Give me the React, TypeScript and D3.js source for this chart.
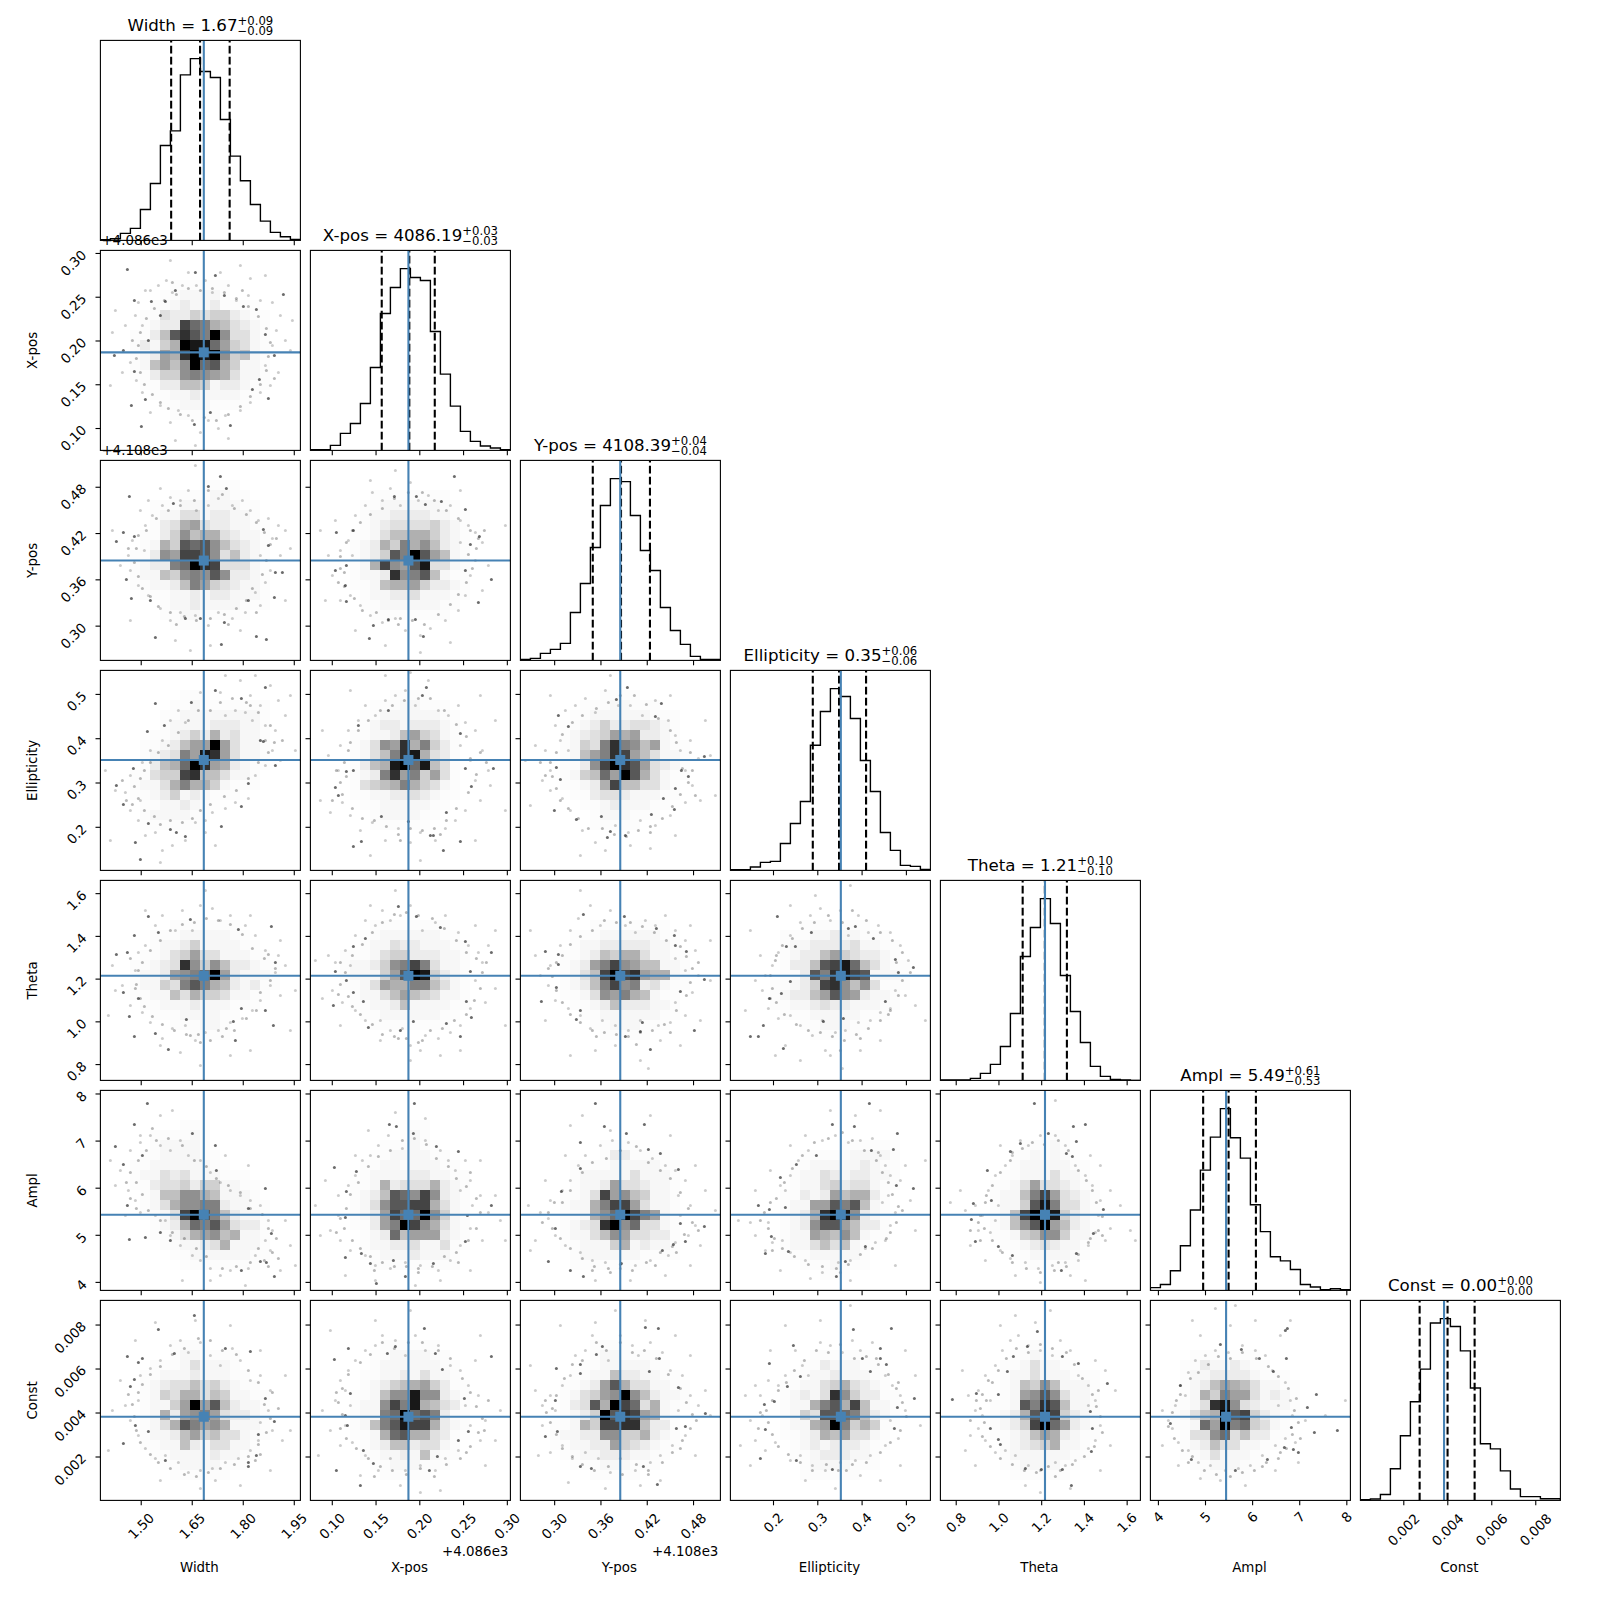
import React from "react";
import * as d3 from "d3";

// ---- parameters -----------------------------------------------------------
const LABELS = ["Width", "X-pos", "Y-pos", "Ellipticity", "Theta", "Ampl", "Const"];
const TITLE_VALUES = ["1.67", "4086.19", "4108.39", "0.35", "1.21", "5.49", "0.00"];
const TITLE_UPPER = ["0.09", "0.03", "0.04", "0.06", "0.10", "0.61", "0.00"];
const TITLE_LOWER = ["0.09", "0.03", "0.04", "0.06", "0.10", "0.53", "0.00"];
const AXIS_LOW = [1.38, 4086.075, 4108.2556, 0.1027, 0.726, 3.83, 0.000027];
const AXIS_HIGH = [1.968, 4086.3035, 4108.5148, 0.5542, 1.662, 8.076, 0.00912];
const TRUTH = [1.684, 4086.187, 4108.385, 0.352, 1.2155, 5.437, 0.00383];
const Q16 = [1.588, 4086.1565, 4108.3494, 0.2887, 1.111, 4.95, 0.00272];
const Q50 = [1.673, 4086.188, 4108.386, 0.348, 1.215, 5.49, 0.00399];
const Q84 = [1.76, 4086.2171, 4108.4235, 0.409, 1.318, 6.07, 0.00522];
const OFFSETS = [0, 4086, 4108, 0, 0, 0, 0];
const OFFSET_LABELS = ["", "+4.086e3", "+4.108e3", "", "", "", ""];
const TICK_DIGITS = [2, 2, 2, 1, 1, 0, 3];
const TICKS = [
  [1.5, 1.65, 1.8, 1.95],
  [4086.1, 4086.15, 4086.2, 4086.25, 4086.3],
  [4108.3, 4108.36, 4108.42, 4108.48],
  [0.2, 0.3, 0.4, 0.5],
  [0.8, 1.0, 1.2, 1.4, 1.6],
  [4, 5, 6, 7, 8],
  [0.002, 0.004, 0.006, 0.008],
];

// ---- marginal histograms (20 bins, relative counts) -------------------------
const histWidth = [2, 5, 21, 36, 93, 171, 285, 329, 497, 546, 507, 489, 363, 253, 179, 108, 58, 24, 11, 3];
const histXpos = [2, 2, 15, 51, 81, 141, 249, 411, 489, 546, 519, 510, 357, 229, 133, 57, 27, 13, 7, 2];
const histYpos = [3, 6, 21, 33, 51, 144, 231, 339, 465, 546, 537, 435, 330, 270, 159, 90, 48, 12, 3, 3];
const histEll = [2, 2, 10, 24, 27, 81, 141, 207, 376, 477, 546, 522, 456, 330, 237, 114, 60, 15, 12, 3];
const histTheta = [1, 1, 1, 6, 21, 48, 102, 201, 372, 459, 546, 471, 315, 207, 114, 42, 12, 3, 1, 0];
const histAmpl = [8, 17, 57, 130, 234, 350, 446, 529, 444, 385, 249, 171, 98, 86, 61, 17, 10, 2, 5, 2];
const histConst = [2, 4, 17, 92, 188, 287, 382, 516, 529, 506, 435, 327, 165, 150, 86, 33, 11, 11, 5, 5];
const HISTS = [histWidth, histXpos, histYpos, histEll, histTheta, histAmpl, histConst];

// ---- 2D histograms: one string per row of bins, top row first. Hex digit = density level ----
const cellsXW = ["","","","","........1111",".......12112","......322434421",".....122ca965321",".....25bdb9f8331","....2146feea7431","....1276dfef8451","....15758fab6411",".....24489876311","......225541221",".......1121111","........111"];
const cellsYW = ["","","","...........11","........111111","......113312211","......236732211","......2485663211",".....164bab85321",".....287ccb83521","....1229afdc3331","....1154898b8221",".....11259743211",".......112122111",".......1121111","........11"];
const cellsYX = ["","","","",".......111111","......11222211","......123333421","......135566421",".....1264968521",".....124b9fb751",".....16c87be331",".....112d89b51","......156674221","......11223111",".......111111"];
const cellsEW = ["","","",".........1","........11111111",".......111122211",".......124262311","......12577f7311",".....12397ed7311",".....256afd7621",".....344cd55311","....113696641",".....124121","......1121",".....1111"];
const cellsEX = ["","","",".........11",".......111111","......12212221","......11257431",".....1387d6942",".....1359de632",".....256efae53",".....129d79473",".....345696431","......1122321",".......11111",".......1111"];
const cellsEY = ["","","",".........11",".......111111","......124223321",".....1234767221",".....1439d98571",".....1579dc75311","......28cfdb7321",".....145a7fb631","......126c55331",".......2332111","........12111","........111"];
const cellsTW = ["","","","","","........11111","......11241111","......134733111",".....123d8485221","....112789af72111","....11439b965212",".....1153644311","......1112111","........1111","..........11"];
const cellsTX = ["","","","","",".......111111","......11322111","......134422211","....112489c9311","....11147bfe421",".....1376699531",".....1135754311","......11251111",".......111111"];
const cellsTY = ["","","","","","........111111","......112222211","......125466311",".....1279c875511",".....135cfcd7661",".....1259c89231","......13879651",".......12522211","........111111",".........111"];
const cellsTE = ["","","","","","........11211","......112222311","......1225743221","......225bcea531",".......2b9decb111","......124cd8583",".....12257b87211","......112322111","........11111",".........111"];
const cellsAW = ["","","","",".........1","......1111","......1111",".....111111","....11323111",".....233424411",".....1558865111",".....1368899211","......13cfb95211","......126a9b7322",".......136785611","........11236111",".........111111"];
const cellsAX = ["","","","","..........1","..........1","........1111",".......11.111","......11112211","......162333621",".....125ba8c821",".....138bbcc631",".....127caaf841","......279fc8631","......12a577721","......11223113",".......1112111"];
const cellsAY = ["","","","","","",".........22",".........11111","......111113111","......112733211","......13c785411",".....1169cc7311","......168afc971",".....123df8a331",".....1135873322","......111461211","......111111"];
const cellsAE = ["","","","","","","............1111","........1111121",".......113212211",".......11342331",".......21275662","......1177b9b51","......126dfe821","......128bb7522","......11765851","......1135351","........11111","..........1"];
const cellsAT = ["","","","","","...........1",".........1.1","........11111","........111311",".......1373321","......1159c7321","......114be9331","......15cfde421","......158bf7521",".......14588411","........123211",".........1111"];
const cellsCW = ["","","","","","........11","........13111","......1112111",".....123353421",".....1436635411",".....1147f7b5211",".....16278973221",".....136b9786111",".....1125745331","......115213311",".......1111211","........1111"];
const cellsCX = ["","","","","","........1111",".......111111",".......1121311","......12456742","......1588e8821",".....118c9e6532",".....119afab92",".....159becc621","......16ab6632","......12552331",".......112151","........111"];
const cellsCY = ["","","","","","........11","........11111",".......1152211","......127b63311",".....13478f85211",".....23b6fca361",".....124fbdc761",".....164ccdd522","....11228844621",".....112274321","......1122211","........111"];
const cellsCE = ["","","","","","",".........2111","........112111",".......11346321","......1213d8422","......1169b6c511","......143bba9521","......1167f9464",".......12657331",".......1212221","........122211","........1111"];
const cellsCT = ["","","","","",".........1","........1311",".......113111",".......15485111",".......178b8311",".......1b9db511","......126bec421","......124cfa721",".......1257621",".......1234611",".......111111","........1111"];
const cellsCA = ["","","","","","",".....21121","....1122221","....125765311","....1649773121","....13de832111","...1356fbc421","....1a7f9a431","....338a3522","....1253311",".....13111","......111"];

// ---- individual samples outside the density blob, as [x, y, x, y, ...]
// in 1/200ths of each parameter's axis range ---------------------------------------------------
const darkXW = [27,181,14,95,23,100,34,150,41,24,31,45,34,79,45,51,51,149,65,149,94,26,110,38,152,61,159,71,174,95,165,116,156,141,143,144,124,155,115,175,183,156,60,135,75,160,130,25,95,178,168,52,48,110];
const faintXW = [50,160,58,165,66,170,72,158,82,165,88,178,96,165,105,170,112,158,120,178,128,165,136,150,148,155,160,150,172,148,180,135,176,120,185,110,172,105,190,100,165,85,178,78,170,65,160,58,150,48,140,40,125,35,118,22,108,30,100,18,88,35,78,40,70,28,60,45,50,38,42,58,36,70,30,88,22,78,12,118,25,125,35,135,42,125,38,148,45,160,15,140,150,172,140,185,70,190,165,175,192,130,10,65,95,5,128,12,75,10];
const ringXW = [40,118,38,105,36,92,40,78,44,66,52,56,60,48,68,42,80,36,92,30,104,33,116,30,128,36,140,44,150,54,160,66,166,80,168,94,170,108,166,122,158,134,148,144,136,152,124,158,112,162,100,160,88,162,76,156,64,150,54,142,46,132,72,168,142,160,32,110,174,72];
const darkYW = [23,128,16,119,34,124,29,164,120,184,108,174,126,172,73,157,55,23,124,38,121,16,156,24,166,21,174,63,148,60,31,62,26,81,50,60,85,42,100,42,163,131,168,115,175,88,182,88];
const faintYW = [60,172,48,160,40,150,62,155,70,163,80,160,88,170,96,150,108,155,118,162,132,155,142,160,150,150,158,140,168,142,178,135,185,130,172,122,160,105,180,105,190,112,170,90,165,78,155,68,160,55,145,48,132,42,118,48,108,35,95,45,80,48,70,40,60,52,48,65,38,75,30,90,28,105,32,120,44,110,20,95,12,130,45,135,52,145,90,10,75,20,110,15,140,30,30,40,185,60,95,195];
const ringYW = [38,125,36,112,34,98,38,84,42,72,50,64,58,54,70,48,84,44,96,40,110,42,124,46,136,52,146,60,152,72,162,86,166,100,170,116,164,128,156,138,146,146,134,152,122,166,108,170,94,160,80,155,68,150,56,142,46,130,76,36,128,36,156,48,28,112,176,122];
const darkYX = [144,184,115,156,155,151,43,130,26,128,25,90,35,75,59,22,113,24,105,41,78,41,63,35,181,81,168,58,155,90,160,116,169,124,36,95,36,59,84,164,106,164,131,159];
const faintYX = [55,155,45,145,62,168,72,160,80,172,90,155,100,178,108,160,118,165,128,150,140,155,150,140,158,135,165,128,172,118,150,118,165,100,178,95,160,85,172,70,155,65,148,50,135,40,120,32,110,25,95,30,85,42,72,38,60,45,50,55,40,65,30,60,22,85,18,105,30,110,38,120,25,140,42,105,15,60,195,135,110,8,75,15,140,18,45,30,10,130,60,180,85,190,150,170];
const ringYX = [42,130,36,118,30,104,34,88,34,74,44,62,52,50,66,48,78,40,90,42,102,40,114,36,128,46,140,56,148,66,156,78,162,92,158,106,168,122,160,130,148,142,136,150,124,160,112,168,98,168,84,162,72,152,60,146,50,138,30,92,28,78,166,112,174,130,88,36];
const darkEW = [55,167,91,168,47,139,165,183,115,180,16,85,23,66,35,28,70,41,76,38,85,34,48,47,40,11,175,105,163,129,160,130,141,64,148,87,33,102,64,145,141,172,121,44];
const faintEW = [100,178,125,155,135,160,145,158,152,150,165,145,175,140,185,155,178,170,160,165,150,175,170,185,190,175,172,120,180,110,165,105,155,95,148,72,135,68,125,62,112,58,105,50,95,48,85,30,72,25,62,20,55,38,45,35,38,50,30,60,40,70,25,78,15,80,30,95,42,108,50,120,62,130,70,150,78,160,85,148,120,178,140,190,10,30,60,8,115,25,105,38,5,100,195,120,155,195,125,195];
const ringEW = [40,92,34,84,38,72,32,66,44,60,54,54,60,46,70,50,82,48,92,52,100,60,110,66,124,74,136,80,148,92,158,108,168,118,174,128,182,130,170,145,158,158,146,168,132,172,120,168,110,160,98,160,88,150,78,138,68,125,58,118,50,108,44,100,26,70,22,90,165,130,150,165];
const darkEX = [116,183,112,175,78,160,150,137,155,102,161,84,25,83,36,99,43,100,28,75,136,58,150,29,120,35,98,49,71,54,43,24,51,29,133,20,123,35,48,145,183,102];
const faintEX = [48,150,38,140,55,165,65,155,75,170,85,175,95,180,105,165,118,190,128,160,138,155,148,165,155,148,165,140,150,125,172,120,160,110,178,100,165,90,180,85,170,70,155,60,145,50,135,42,125,30,110,38,100,28,88,42,75,30,62,48,50,40,40,55,32,68,20,58,28,100,18,115,30,125,12,140,10,70,195,60,165,30,60,15,110,10,75,195,40,180,170,175,185,150,100,198];
const ringEX = [38,120,34,108,36,94,30,88,32,76,42,62,52,52,64,50,76,44,88,36,100,42,112,40,124,42,136,50,146,62,158,78,166,96,160,112,170,118,156,134,146,146,134,160,120,172,108,172,94,170,82,165,70,160,58,150,48,140,40,128,26,100,22,70,176,108,90,30,130,36];
const darkEY = [107,183,96,171,141,167,38,155,36,103,40,91,161,100,168,94,155,82,143,72,81,54,90,39,105,35,154,61,131,56,56,51,34,60,87,33,48,144,135,154,184,114];
const faintEY = [45,160,35,145,55,165,65,172,75,158,85,180,98,165,110,165,122,155,135,170,148,150,155,135,170,130,160,120,178,112,165,100,190,115,172,85,180,70,165,68,150,55,135,45,120,50,108,38,95,45,75,28,62,40,50,60,42,72,30,80,22,90,30,100,25,120,15,125,40,130,48,120,5,110,195,75,10,65,60,15,85,20,110,25,130,22,155,35,185,150,30,175,150,175,90,195];
const ringEY = [36,118,30,108,32,94,36,82,40,70,48,62,58,52,68,42,82,42,94,36,106,34,118,40,130,44,142,52,152,64,160,76,168,88,162,102,170,118,156,128,150,140,138,152,126,166,114,175,100,175,88,168,76,162,62,155,52,148,42,136,25,95,172,100,20,108,175,75,130,38];
const darkTW = [48,164,34,145,16,126,27,128,58,148,23,88,38,82,34,44,55,47,135,40,133,59,171,154,138,151,173,55,165,70,175,118,29,64,86,61,141,72,68,31,90,161];
const faintTW = [55,155,45,135,62,165,75,150,82,170,92,150,100,175,112,172,120,160,130,165,145,155,155,145,165,130,178,125,185,115,175,108,170,95,180,85,160,80,152,70,142,62,130,58,118,50,105,48,95,40,85,55,72,52,62,42,50,58,42,68,30,75,22,95,12,115,35,110,38,128,15,90,8,65,195,90,190,50,100,15,60,35,150,30,130,25,80,28,45,170,150,165,180,140,105,190];
const ringTW = [38,110,36,96,40,82,44,74,52,64,62,56,74,50,86,46,98,46,110,40,122,44,134,50,146,62,156,70,160,88,170,100,175,112,164,122,152,132,142,146,130,156,118,160,106,162,94,158,82,156,70,150,60,140,50,130,42,118,100,38,90,45,126,52,30,122,168,126,35,92];
const darkTX = [36,100,55,142,106,164,136,57,150,44,43,134,23,75,43,88,155,139,181,128,160,109,156,79,161,63,25,109,88,174,130,153,58,53,90,50,53,79,103,59];
const faintTX = [45,145,35,130,55,160,65,155,72,170,80,160,90,165,100,175,112,150,125,158,135,165,148,148,158,135,168,128,178,135,172,118,165,100,185,92,175,78,160,72,150,55,140,48,128,42,115,45,100,35,92,52,80,50,70,60,55,60,45,70,32,78,22,90,12,82,25,118,18,125,40,115,5,120,195,55,100,20,110,30,70,40,150,30,130,25,85,190,60,175,165,155,185,150,30,55];
const ringTX = [35,108,30,96,38,84,42,74,50,66,62,56,72,46,84,44,96,42,108,38,120,50,132,52,144,60,156,66,164,80,170,92,172,108,166,122,156,128,146,140,134,152,122,162,108,165,96,168,84,166,72,158,62,148,52,136,42,125,30,118,28,86,176,118,112,40,88,42];
const darkTY = [104,164,63,166,38,126,25,129,38,116,36,93,21,79,160,89,155,135,166,129,184,101,136,152,154,145,122,58,120,49,56,61,60,70,105,44,174,50,130,31];
const faintTY = [50,150,40,135,58,162,70,175,80,155,90,170,105,155,115,148,125,160,135,155,145,165,155,150,170,155,165,140,175,130,155,122,165,110,178,105,190,100,172,88,155,78,165,65,150,58,138,55,120,60,108,50,95,55,82,60,70,52,60,65,48,72,35,80,28,95,20,105,30,115,15,125,10,150,50,25,75,30,120,20,128,12,160,35,180,60,190,140,60,190,95,35,140,40,25,60];
const ringTY = [36,118,32,104,36,90,42,78,50,66,60,58,72,50,84,48,96,46,108,44,120,48,132,50,144,56,156,70,166,85,170,98,172,112,166,124,160,134,146,140,134,148,122,154,110,158,96,158,84,160,72,150,60,144,50,136,42,125,28,112,178,118,150,48,76,44,116,36];
const darkTE = [47,164,56,134,183,113,168,108,60,99,39,82,51,87,20,44,28,44,93,59,113,62,118,152,143,142,165,121,65,134,53,32,125,154,81,148,155,79,33,55];
const faintTE = [60,145,48,128,42,115,70,158,80,165,90,172,100,160,110,170,118,145,128,165,138,148,148,155,160,148,170,135,178,120,165,90,175,85,160,72,150,68,140,60,128,58,115,50,105,48,92,60,82,45,70,55,60,65,48,62,38,72,32,90,35,105,30,125,20,150,150,40,130,30,95,30,55,35,185,75,195,60,85,185,60,175,25,100,15,70,120,195,112,12,100,25,70,20,45,25];
const ringTE = [45,120,40,105,42,92,46,78,54,66,66,56,78,50,90,48,102,44,114,40,126,46,138,52,150,60,160,70,168,85,172,100,166,118,172,128,162,140,150,148,136,160,122,170,112,158,98,165,84,158,72,152,62,142,52,135,46,125,40,82,130,42,158,66,110,30,180,108];
const darkAW = [47,187,34,166,92,157,15,144,42,135,23,126,165,102,27,85,60,58,29,51,45,53,174,14,160,29,166,28,141,20,171,57,116,120,115,145,148,82,70,50];
const faintAW = [30,140,20,120,40,148,50,155,60,145,70,140,80,150,88,135,100,130,110,118,120,108,130,100,140,95,150,90,160,85,168,70,172,60,165,50,170,40,155,35,148,22,130,20,120,15,110,22,100,30,92,35,80,45,70,55,65,70,55,75,40,78,35,90,28,100,25,75,15,105,10,130,60,175,72,180,180,20,190,45,185,70,195,25,82,10,145,5,110,10,40,155,125,135,148,125];
const ringAW = [36,108,30,118,38,130,46,140,56,150,68,152,82,145,94,130,106,124,116,112,128,105,140,98,150,82,162,76,168,62,176,52,172,38,164,30,150,28,136,24,122,22,106,34,96,42,84,52,72,58,60,70,48,80,36,82,30,92,42,96,26,108,52,162,158,42,178,32,168,24];
const darkAX = [104,187,79,166,103,157,86,164,148,139,24,123,35,73,35,33,60,27,51,37,181,85,155,49,123,27,95,14,36,99,157,75,126,144,46,119,83,30,66,7];
const faintAX = [45,115,38,105,28,95,52,130,60,135,68,145,78,155,92,142,115,150,130,140,138,130,145,120,160,110,150,100,170,95,162,85,178,78,160,62,172,50,150,45,140,30,128,20,110,25,95,28,80,22,65,25,55,35,40,40,30,50,20,60,28,75,10,55,5,85,185,95,195,50,160,20,105,5,65,10,35,15,155,130,45,135,58,160,115,172,85,178,170,130,15,110,190,70,130,10];
const ringAX = [36,82,30,72,34,62,42,50,50,42,60,34,72,28,84,24,96,24,108,22,122,24,134,34,146,38,158,50,166,62,170,78,166,92,156,104,146,112,138,124,126,132,116,146,104,152,92,150,80,140,68,134,58,124,48,108,40,96,26,58,148,28,160,118,108,18,64,20];
const darkAY = [75,187,84,164,124,166,60,148,106,157,128,141,158,121,60,122,41,99,184,64,165,49,142,40,63,14,35,62,160,67,153,46,28,29,101,27,50,20,140,137];
const faintAY = [50,110,42,100,30,90,20,78,58,125,65,135,80,145,92,150,108,148,120,140,132,132,145,125,155,120,165,110,158,95,170,85,160,75,175,65,168,55,155,48,148,35,130,30,115,25,100,22,85,28,72,30,60,38,45,45,35,55,28,72,15,50,8,85,195,80,185,100,180,45,145,15,110,10,75,10,50,165,45,135,175,125,150,155,130,175,25,110,10,40,90,160,62,175,170,25];
const ringAY = [34,88,28,78,32,62,40,52,50,42,62,32,74,24,88,22,100,26,112,20,126,28,140,38,152,44,164,56,172,68,168,82,160,98,150,112,140,120,128,128,116,144,100,140,86,132,72,128,62,118,50,100,42,88,22,68,156,38,178,60,90,18,72,20,135,25];
const darkAE = [139,187,102,166,124,164,167,157,141,140,86,135,66,126,50,113,183,102,39,81,55,83,28,85,41,54,58,39,135,44,115,29,106,14,163,141,166,105,35,37];
const faintAE = [50,105,60,115,68,130,78,140,92,150,105,155,118,148,130,150,142,152,150,135,155,125,160,115,158,95,152,88,165,78,160,65,155,50,145,48,135,42,120,30,108,28,92,18,75,30,60,38,52,50,42,48,38,68,25,55,35,40,20,68,8,70,180,90,170,110,175,125,185,60,165,25,120,10,80,12,50,20,55,100,75,155,40,120,25,100,60,145,125,175,150,180,195,130,100,180];
const ringAE = [40,88,34,78,38,62,44,52,52,42,64,34,78,26,92,24,106,22,118,26,130,36,142,42,156,52,166,68,172,80,162,96,158,108,152,118,146,130,134,140,122,150,112,158,98,152,84,148,72,135,62,122,54,108,46,92,30,70,42,40,160,58,148,138,168,84,110,18];
const darkAT = [94,187,108,157,133,164,145,166,132,134,136,149,70,139,47,120,33,87,31,71,58,44,153,57,136,37,121,20,163,81,80,147,35,49,72,35,51,90,126,137];
const faintAT = [55,115,48,100,35,85,25,80,65,125,72,135,80,150,88,145,100,155,115,155,125,145,135,125,145,115,152,105,160,90,158,75,170,62,155,58,165,50,148,45,138,30,125,28,112,25,98,22,85,28,70,32,60,40,50,58,38,60,42,75,58,85,55,70,30,45,20,100,10,88,180,85,190,60,145,10,100,8,75,15,150,135,160,125,115,190,60,145,45,30,170,100,195,50,130,15];
const ringAT = [45,88,40,75,44,62,52,50,62,38,72,28,86,22,100,18,114,20,126,24,138,36,148,48,158,60,162,74,156,88,152,100,146,110,138,120,128,140,118,150,104,146,92,148,82,142,70,130,60,118,52,105,46,95,38,68,30,60,162,55,150,52,40,50,118,28,72,138];
const darkCW = [42,142,38,138,27,144,58,171,94,185,125,152,150,149,165,102,23,57,48,69,65,40,156,45,148,34,148,38,158,66,30,114,34,121,174,79,35,75,74,147];
const faintCW = [40,125,50,132,60,140,70,155,80,160,88,148,100,158,110,145,120,135,132,152,140,140,150,120,160,125,170,110,168,90,160,78,172,70,158,60,150,50,138,42,125,38,112,32,100,30,88,28,78,38,65,45,55,42,45,52,38,65,30,80,25,95,38,100,20,120,12,90,8,50,185,125,190,70,170,30,160,150,130,175,55,178,95,180,35,160,60,20,100,12,140,15,115,20,182,60];
const ringCW = [38,108,32,96,34,84,36,70,40,58,50,46,58,38,70,32,84,26,96,24,108,28,120,32,134,36,148,44,158,56,166,68,170,82,164,96,172,108,158,118,148,130,136,146,122,150,110,160,98,162,84,152,72,146,60,134,50,126,42,116,28,106,178,92,160,46,155,40];
const darkCX = [24,141,38,152,77,147,125,147,181,144,154,102,35,85,37,75,53,50,119,30,127,44,148,60,114,172,85,154,63,37,132,131,50,15,26,30,158,69,40,107];
const faintCX = [25,100,30,120,38,130,45,140,55,150,65,155,72,165,85,160,95,145,105,165,115,150,128,155,140,135,150,130,158,115,168,105,155,95,175,80,160,75,170,60,148,50,135,42,125,30,110,35,95,30,80,42,68,30,55,45,42,58,30,55,35,75,20,70,12,90,8,45,185,60,190,90,165,140,170,165,100,190,65,180,20,170,130,10,90,15,50,25,110,8,175,35,40,95,35,110];
const ringCX = [32,112,28,98,32,86,30,72,36,62,46,52,58,42,70,34,82,30,96,26,110,32,124,24,136,36,150,42,160,54,168,68,172,82,166,94,160,108,152,122,140,142,128,150,112,158,98,158,84,152,72,158,60,146,50,138,38,126,26,108,178,100,174,70,156,48,64,24];
const darkCY = [36,132,60,136,60,127,76,146,82,154,138,172,125,173,139,142,158,113,165,74,156,72,60,34,71,32,123,34,137,16,25,64,37,69,35,100,185,87,129,129];
const faintCY = [50,125,42,115,30,105,22,95,55,145,65,150,72,165,88,140,100,165,112,155,118,145,130,158,142,148,150,130,162,125,170,105,158,90,178,95,165,65,152,55,140,45,130,38,115,30,100,42,90,28,78,42,65,48,52,42,42,55,30,48,22,75,15,110,35,90,48,18,85,12,120,15,140,20,175,45,190,85,155,165,170,145,40,175,95,190,125,180,10,135,185,110,75,178,18,45];
const ringCY = [36,105,32,92,30,78,36,66,42,52,52,44,62,36,74,30,88,34,102,26,116,36,128,30,142,38,152,48,162,60,170,72,172,86,166,98,160,112,148,126,136,142,124,150,112,148,100,158,86,150,76,158,62,140,52,136,44,122,26,88,25,100,176,80,128,26,160,52];
const darkCE = [39,137,63,155,57,114,123,171,161,172,150,152,156,136,150,142,167,93,184,102,132,142,35,71,66,40,102,31,164,72,70,124,140,129,44,99,34,96,30,42];
const faintCE = [55,125,48,115,38,120,30,105,25,115,65,150,72,135,78,125,90,158,100,155,112,148,122,160,130,150,142,158,155,125,162,115,170,105,175,90,160,80,168,62,155,55,140,45,125,40,110,38,95,30,82,35,70,45,60,40,45,58,35,50,25,60,20,80,32,85,15,105,10,55,185,125,190,75,150,20,105,12,75,20,55,175,90,180,120,195,175,150,40,150,20,35,170,35,130,25];
const ringCE = [42,100,36,90,38,78,42,66,48,54,58,46,70,38,82,30,96,36,108,30,122,36,136,38,150,48,160,58,170,70,176,84,172,98,166,112,158,126,148,136,136,144,124,142,110,156,98,148,86,150,74,140,64,130,56,118,48,110,30,88,28,72,146,142,168,118,116,30];
const darkCT = [67,129,58,106,58,61,73,144,87,154,122,144,138,137,50,72,60,56,150,89,152,72,151,49,131,15,97,169,101,31,167,117,85,32,12,101,36,107,122,31];
const faintCT = [55,135,45,125,38,110,35,90,28,105,62,150,70,160,78,165,88,155,100,150,112,145,120,160,130,150,138,125,148,115,155,100,148,95,160,75,155,60,148,52,135,40,125,35,115,38,100,30,88,35,75,45,65,50,55,48,45,60,38,72,30,65,42,85,50,100,60,175,110,190,95,178,155,140,165,130,175,110,170,55,35,35,85,15,130,12,100,8,22,130,160,30,75,185,25,50];
const ringCT = [48,120,42,106,40,92,44,78,42,64,50,54,60,42,72,36,84,30,96,28,108,34,120,30,132,36,144,44,154,54,162,68,160,84,156,94,152,106,142,122,134,136,126,148,112,152,100,156,88,148,76,152,66,142,58,130,52,118,46,100,36,100,30,80,158,110,115,24];
const darkCA = [137,172,135,170,109,142,123,129,136,142,91,151,70,156,166,106,157,93,187,70,141,73,164,68,134,53,143,51,117,41,41,41,20,77,30,115,85,30,148,48];
const faintCA = [25,95,18,80,30,115,38,128,45,140,55,145,65,150,78,148,92,155,105,150,115,145,122,130,135,118,140,100,128,95,142,85,135,62,145,58,125,55,112,45,100,35,88,32,75,30,60,35,48,38,38,50,28,58,22,72,12,90,35,105,70,20,50,22,28,35,95,15,125,30,148,38,155,80,175,85,195,100,105,180,80,175,50,165,130,165,12,55,65,192,85,195,42,180,140,180];
const ringCA = [22,88,18,74,24,62,32,50,42,44,54,30,66,26,80,24,92,28,104,30,116,38,128,42,136,52,142,66,148,78,144,90,146,102,138,112,128,124,118,134,106,142,92,148,80,142,68,144,58,136,48,128,40,122,30,106,26,100,130,48,150,62,38,38,112,34];

const PANELS: [number, number, string[], number[], number[], number[]][] = [
  [1, 0, cellsXW, faintXW, ringXW, darkXW],
  [2, 0, cellsYW, faintYW, ringYW, darkYW],
  [2, 1, cellsYX, faintYX, ringYX, darkYX],
  [3, 0, cellsEW, faintEW, ringEW, darkEW],
  [3, 1, cellsEX, faintEX, ringEX, darkEX],
  [3, 2, cellsEY, faintEY, ringEY, darkEY],
  [4, 0, cellsTW, faintTW, ringTW, darkTW],
  [4, 1, cellsTX, faintTX, ringTX, darkTX],
  [4, 2, cellsTY, faintTY, ringTY, darkTY],
  [4, 3, cellsTE, faintTE, ringTE, darkTE],
  [5, 0, cellsAW, faintAW, ringAW, darkAW],
  [5, 1, cellsAX, faintAX, ringAX, darkAX],
  [5, 2, cellsAY, faintAY, ringAY, darkAY],
  [5, 3, cellsAE, faintAE, ringAE, darkAE],
  [5, 4, cellsAT, faintAT, ringAT, darkAT],
  [6, 0, cellsCW, faintCW, ringCW, darkCW],
  [6, 1, cellsCX, faintCX, ringCX, darkCX],
  [6, 2, cellsCY, faintCY, ringCY, darkCY],
  [6, 3, cellsCE, faintCE, ringCE, darkCE],
  [6, 4, cellsCT, faintCT, ringCT, darkCT],
  [6, 5, cellsCA, faintCA, ringCA, darkCA],
];

// ---- layout -----------------------------------------------------------------
const SIZE = 200;
const STEP = 210;
const LEFT = 100.4;
const TOP = 40.4;
const BINS = 20;
const FONT = "'DejaVu Sans', sans-serif";
const TICK_FONT = 13.4;
const TITLE_FONT = 16.67;
const SUP_FONT = 11.67;
const BLUE = "#4682b4";

const ctx = document.createElement("canvas").getContext("2d")!;
const measure = (s: string, size: number) => {
  ctx.font = `${size}px 'DejaVu Sans'`;
  return ctx.measureText(s).width;
};

const xScales = LABELS.map((_, i) => d3.scaleLinear().domain([AXIS_LOW[i], AXIS_HIGH[i]]).range([0, SIZE]));
const yScales = LABELS.map((_, i) => d3.scaleLinear().domain([AXIS_LOW[i], AXIS_HIGH[i]]).range([SIZE, 0]));
const fromFraction = (i: number, f: number) => AXIS_LOW[i] + (f / SIZE) * (AXIS_HIGH[i] - AXIS_LOW[i]);
const shade = d3
  .scaleLinear()
  .domain([0, 1, 2, 3, 4, 5, 6, 7, 8, 9, 10, 11, 12, 13, 14, 15])
  .range([252, 247, 236, 224, 208, 192, 176, 160, 144, 128, 108, 88, 68, 48, 24, 0]);
const tickLabel = (i: number, t: number) => (t - OFFSETS[i]).toFixed(TICK_DIGITS[i]);

function Frame({ col, row, showLeft }: { col: number; row: number; showLeft: boolean }) {
  return (
    <g>
      <rect x={0} y={0} width={SIZE} height={SIZE} fill="none" stroke="#000" strokeWidth={1.1} />
      {TICKS[col].map((t) => (
        <line key={t} x1={xScales[col](t)} x2={xScales[col](t)} y1={SIZE} y2={SIZE + 4.9} stroke="#000" strokeWidth={1.1} />
      ))}
      {showLeft &&
        TICKS[row].map((t) => (
          <line key={t} y1={yScales[row](t)} y2={yScales[row](t)} x1={-4.9} x2={0} stroke="#000" strokeWidth={1.1} />
        ))}
    </g>
  );
}

function Diagonal({ i }: { i: number }) {
  const x = xScales[i];
  const counts = HISTS[i];
  const y = d3.scaleLinear().domain([0, 1.1 * (d3.max(counts) as number)]).range([SIZE, 0]);
  const binW = (AXIS_HIGH[i] - AXIS_LOW[i]) / BINS;
  const pts: [number, number][] = [[AXIS_LOW[i], 0]];
  counts.forEach((c, k) => pts.push([AXIS_LOW[i] + k * binW, c]));
  pts.push([AXIS_HIGH[i], counts[BINS - 1]], [AXIS_HIGH[i], 0]);
  const path = d3
    .line<[number, number]>()
    .x((d) => x(d[0]))
    .y((d) => y(d[1]))
    .curve(d3.curveStepAfter)(pts)!;
  const main = `${LABELS[i]} = ${TITLE_VALUES[i]}`;
  const supU = `+${TITLE_UPPER[i]}`;
  const supL = `\u2212${TITLE_LOWER[i]}`;
  const mainW = measure(main, TITLE_FONT);
  const supW = Math.max(measure(supU, SUP_FONT), measure(supL, SUP_FONT));
  const start = SIZE / 2 - (mainW + supW) / 2;
  return (
    <g transform={`translate(${LEFT + STEP * i},${TOP + STEP * i})`}>
      <svg x={0} y={0} width={SIZE} height={SIZE}>
        <path d={path} fill="none" stroke="#000" strokeWidth={1.4} />
        {[Q16[i], Q50[i], Q84[i]].map((q) => (
          <line key={q} x1={x(q)} x2={x(q)} y1={SIZE} y2={0} stroke="#000" strokeWidth={2.1} strokeDasharray="7.7 3.3" />
        ))}
        <line x1={x(TRUTH[i])} x2={x(TRUTH[i])} y1={0} y2={SIZE} stroke={BLUE} strokeWidth={2.1} />
      </svg>
      <Frame col={i} row={i} showLeft={false} />
      <text x={start} y={-9.3} fontSize={TITLE_FONT} fontFamily={FONT} fill="#000">{main}</text>
      <text x={start + mainW} y={-15} fontSize={SUP_FONT} fontFamily={FONT} fill="#000">{supU}</text>
      <text x={start + mainW} y={-5} fontSize={SUP_FONT} fontFamily={FONT} fill="#000">{supL}</text>
    </g>
  );
}

function Dots({ list, col, row, opacity }: { list: number[]; col: number; row: number; opacity: number }) {
  const marks = [];
  for (let k = 0; k + 1 < list.length; k += 2) {
    marks.push(
      <circle
        key={k}
        cx={xScales[col](fromFraction(col, list[k]))}
        cy={yScales[row](fromFraction(row, list[k + 1]))}
        r={1.5}
        fill="#000"
        fillOpacity={opacity}
      />
    );
  }
  return <g>{marks}</g>;
}

function Cells({ rows, col, row }: { rows: string[]; col: number; row: number }) {
  const dx = (AXIS_HIGH[col] - AXIS_LOW[col]) / BINS;
  const dy = (AXIS_HIGH[row] - AXIS_LOW[row]) / BINS;
  const level = (r: number, c: number) => {
    const ch = rows[r]?.[c];
    const v = ch === undefined ? NaN : parseInt(ch, 16);
    return Number.isNaN(v) ? 0 : v;
  };
  const rects: any[] = [];
  for (let r = 0; r < BINS; r++) {
    for (let c = 0; c < BINS; c++) {
      let v = level(r, c);
      if (v === 0) {
        // the palest tone of the density image reaches one bin past the occupied bins
        let near = false;
        for (let a = -1; a <= 1; a++) for (let b = -1; b <= 1; b++) if (level(r + a, c + b) > 0) near = true;
        if (!near) continue;
      }
      const x0 = xScales[col](AXIS_LOW[col] + c * dx);
      const x1 = xScales[col](AXIS_LOW[col] + (c + 1) * dx);
      const y0 = yScales[row](AXIS_HIGH[row] - r * dy);
      const y1 = yScales[row](AXIS_HIGH[row] - (r + 1) * dy);
      const g = Math.round(shade(v));
      rects.push(<rect key={`${r}-${c}`} x={x0} y={y0} width={x1 - x0} height={y1 - y0} fill={`rgb(${g},${g},${g})`} shapeRendering="crispEdges" />);
    }
  }
  return <g>{rects}</g>;
}

function Joint({ row, col, cells, faint, ring, dark }: { row: number; col: number; cells: string[]; faint: number[]; ring: number[]; dark: number[] }) {
  const tx = xScales[col](TRUTH[col]);
  const ty = yScales[row](TRUTH[row]);
  return (
    <g transform={`translate(${LEFT + STEP * col},${TOP + STEP * row})`}>
      <svg x={0} y={0} width={SIZE} height={SIZE}>
        <Cells rows={cells} col={col} row={row} />
        <Dots list={faint} col={col} row={row} opacity={0.2} />
        <Dots list={ring} col={col} row={row} opacity={0.28} />
        <Dots list={dark} col={col} row={row} opacity={0.58} />
        <line x1={tx} x2={tx} y1={0} y2={SIZE} stroke={BLUE} strokeWidth={2.1} />
        <line x1={0} x2={SIZE} y1={ty} y2={ty} stroke={BLUE} strokeWidth={2.1} />
        <rect x={tx - 5} y={ty - 5} width={10} height={10} fill={BLUE} />
      </svg>
      <Frame col={col} row={row} showLeft={true} />
    </g>
  );
}

function AxisText() {
  const items: any[] = [];
  const bottom = TOP + STEP * 6 + SIZE;
  LABELS.forEach((name, i) => {
    const px = LEFT + STEP * i;
    TICKS[i].forEach((t) => {
      const s = tickLabel(i, t);
      const w = measure(s, TICK_FONT);
      const cx = px + xScales[i](t);
      const cy = bottom + 13.4 + 0.42 * w;
      items.push(
        <text key={`x${i}-${t}`} transform={`translate(${cx},${cy}) rotate(-45)`} textAnchor="middle" dominantBaseline="central" fontSize={TICK_FONT} fontFamily={FONT}>{s}</text>
      );
    });
    items.push(
      <text key={`xl${i}`} x={px + SIZE / 2 - 1} y={bottom + 67} textAnchor="middle" dominantBaseline="central" fontSize={TICK_FONT} fontFamily={FONT}>{name}</text>
    );
    if (OFFSET_LABELS[i]) {
      items.push(
        <text key={`xo${i}`} x={px + SIZE - 2} y={bottom + 56} textAnchor="end" fontSize={TICK_FONT} fontFamily={FONT}>{OFFSET_LABELS[i]}</text>
      );
    }
    if (i > 0) {
      const py = TOP + STEP * i;
      TICKS[i].forEach((t) => {
        const s = tickLabel(i, t);
        const w = measure(s, TICK_FONT);
        const cx = LEFT - (15.5 + 0.38 * w);
        const cy = py + yScales[i](t) + 0.33 * w;
        items.push(
          <text key={`y${i}-${t}`} transform={`translate(${cx},${cy}) rotate(-45)`} textAnchor="middle" dominantBaseline="central" fontSize={TICK_FONT} fontFamily={FONT}>{s}</text>
        );
      });
      items.push(
        <text key={`yl${i}`} transform={`translate(32,${py + SIZE / 2}) rotate(-90)`} textAnchor="middle" dominantBaseline="central" fontSize={TICK_FONT} fontFamily={FONT}>{name}</text>
      );
      if (OFFSET_LABELS[i]) {
        items.push(
          <text key={`yo${i}`} x={LEFT + 1} y={py - 5} fontSize={TICK_FONT} fontFamily={FONT}>{OFFSET_LABELS[i]}</text>
        );
      }
    }
  });
  return <g fill="#000">{items}</g>;
}

export default function App() {
  return (
    <svg width={1600} height={1600} viewBox="0 0 1600 1600" style={{ position: "absolute", left: 0, top: 0, background: "#fff" }}>
      {PANELS.map(([row, col, cells, faint, ring, dark]) => (
        <Joint key={`${row}-${col}`} row={row} col={col} cells={cells} faint={faint} ring={ring} dark={dark} />
      ))}
      {LABELS.map((_, i) => (
        <Diagonal key={i} i={i} />
      ))}
      <AxisText />
    </svg>
  );
}
